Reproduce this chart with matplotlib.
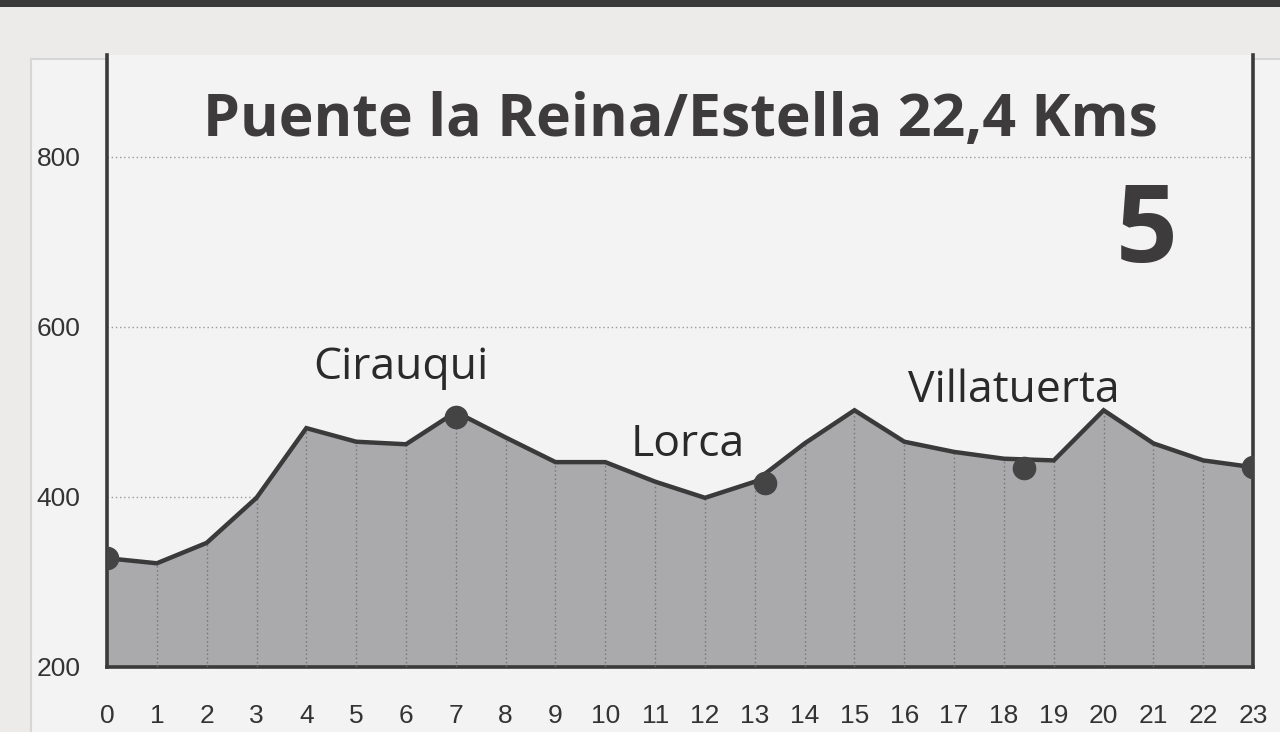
import matplotlib
matplotlib.use("Agg")
from matplotlib import pyplot as plt
from matplotlib.patches import Rectangle

# elevation profile, one value per km
km = list(range(0, 24))
elev = [328, 322, 346, 399, 481, 465, 462, 500, 470, 441, 441, 418,
        399, 418, 463, 502, 465, 453, 445, 443, 502, 463, 443, 435]

# towns marked with a dot
dot_km = [0, 7, 13.2, 18.4, 23]
dot_elev = [328, 494, 416, 434, 435]

labels = ["Cirauqui", "Lorca", "Villatuerta"]
label_km = [5.9, 11.65, 18.2]
label_elev = [552, 461, 525]

yticks = [200, 400, 600, 800]
title = "Puente la Reina/Estella 22,4 Kms"
stage = "5"

dark = "#3a3a3a"

fig = plt.figure(figsize=(12.8, 7.32), dpi=100, facecolor="#ecebea")
# paper sheet behind the chart
fig.patches.append(Rectangle((0.024, -0.01), 0.98, 0.93, transform=fig.transFigure,
                             facecolor="#f4f3f3", edgecolor="#d6d6d6", lw=1.5, zorder=-10))
fig.patches.append(Rectangle((0, 0.99), 1, 0.01, transform=fig.transFigure,
                             facecolor="#3a3a3a", edgecolor="none", zorder=-10))

ax = fig.add_axes([0.0836, 0.0888, 0.8954, 0.8362])
ax.set_facecolor("#f4f3f3")

ax.set_xlim(0, 23)
ax.set_ylim(200, 920)

# horizontal dotted grid
for y in yticks[1:]:
    ax.axhline(y, color="#9a9a9a", lw=1, ls=(0, (1, 2)), zorder=1)

ax.fill_between(km, 200, elev, color="#aaa9ac", zorder=2)
# vertical dotted lines inside the profile
ax.vlines(km[1:-1], 200, elev[1:-1], color="#747474", lw=1, ls=(0, (1, 2)), zorder=3)
ax.plot(km, elev, color=dark, lw=3.2, zorder=4, solid_joinstyle="miter")
ax.plot(dot_km, dot_elev, "o", color="#444444", ms=16, zorder=5)

for name, x, y in zip(labels, label_km, label_elev):
    ax.text(x, y, name, fontsize=32, family="Open Sans", color="#2a2a2a",
            ha="center", va="center", zorder=6)

ax.text(0.5, 0.893, title, transform=ax.transAxes, fontsize=42.5, fontweight="bold",
        family="Open Sans", color="#3d3b3c", ha="center", va="center")
ax.text(0.9075, 0.708, stage, transform=ax.transAxes, fontsize=78, fontweight="bold",
        family="Open Sans", color="#3d3b3c", ha="center", va="center")

ax.set_xticks(km)
ax.set_yticks(yticks)
ax.tick_params(length=0, labelsize=19, colors="#333333", labelcolor="#333333")
ax.tick_params(axis="x", pad=27)
ax.tick_params(axis="y", pad=19)
for t in ax.get_xticklabels() + ax.get_yticklabels():
    t.set_family("Liberation Sans")

for side in ["left", "right", "bottom"]:
    ax.spines[side].set_color(dark)
    ax.spines[side].set_linewidth(2.6)
ax.spines["top"].set_visible(False)

fig.savefig("out.png", dpi=100, facecolor=fig.get_facecolor())
